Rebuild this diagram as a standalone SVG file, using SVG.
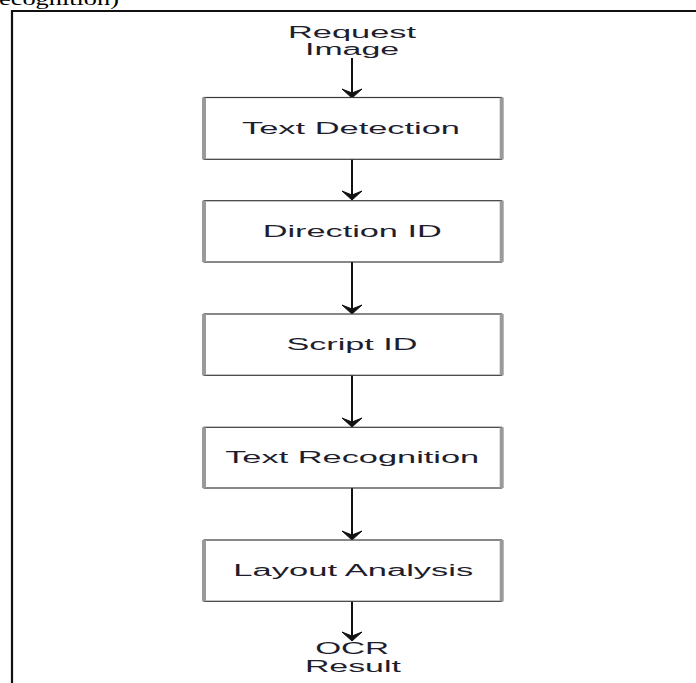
<svg xmlns="http://www.w3.org/2000/svg" width="696" height="683" viewBox="0 0 696 683">
<defs>
<style>
.frame{stroke:#111;stroke-width:2.2;fill:none}
.box{fill:#fff;stroke:#3a3a3a;stroke-width:1.2}
.side{stroke:#9a9a9a;stroke-width:4;fill:none}
.lbl{font-family:"Liberation Sans",Arial,sans-serif;font-size:16px;fill:#1e1e2e;text-anchor:middle}
.cap{font-family:"Liberation Serif","Times New Roman",serif;font-size:18px;fill:#000}
.conn line{stroke:#111;stroke-width:2}
</style>
<marker id="ah" markerUnits="userSpaceOnUse" markerWidth="24" markerHeight="24" refX="0" refY="0" orient="auto" viewBox="-12 -12 24 24" overflow="visible">
<path d="M0,0 L-9,-10 L-5,0 L-9,10 Z" fill="#111" stroke="#111" stroke-width="1" stroke-linejoin="miter"/>
</marker>
</defs>
<rect width="696" height="683" fill="#fff"/>
<text class="cap" x="-1" y="4.5" textLength="120" lengthAdjust="spacingAndGlyphs">ecognition)</text>
<path class="frame" d="M12,683 V11 H696"/>

<g id="conns" class="conn">
<line x1="352" y1="58" x2="352" y2="98" marker-end="url(#ah)"/>
<line x1="352" y1="159" x2="352" y2="200" marker-end="url(#ah)"/>
<line x1="352" y1="262" x2="352" y2="314" marker-end="url(#ah)"/>
<line x1="352" y1="375" x2="352" y2="427" marker-end="url(#ah)"/>
<line x1="352" y1="488" x2="352" y2="540" marker-end="url(#ah)"/>
<line x1="352" y1="601" x2="352" y2="641" marker-end="url(#ah)"/>
</g>

<g id="request">
<text class="lbl" x="352" y="38" textLength="128" lengthAdjust="spacingAndGlyphs">Request</text>
<text class="lbl" x="352" y="55" textLength="94" lengthAdjust="spacingAndGlyphs">Image</text>
</g>

<g id="textdetection">
<rect class="box" x="204" y="97.5" width="297.7" height="61.8"/>
<line class="side" x1="204" y1="97.5" x2="204" y2="159.3"/>
<line class="side" x1="501.7" y1="97.5" x2="501.7" y2="159.3"/>
<text class="lbl" x="351" y="133.5" textLength="218" lengthAdjust="spacingAndGlyphs">Text Detection</text>
</g>

<g id="directionid">
<rect class="box" x="204" y="200.7" width="297.7" height="61.3"/>
<line class="side" x1="204" y1="200.7" x2="204" y2="262"/>
<line class="side" x1="501.7" y1="200.7" x2="501.7" y2="262"/>
<text class="lbl" x="352.2" y="236.8" textLength="179" lengthAdjust="spacingAndGlyphs">Direction ID</text>
</g>

<g id="scriptid">
<rect class="box" x="204" y="314" width="297.7" height="61.3"/>
<line class="side" x1="204" y1="314" x2="204" y2="375.3"/>
<line class="side" x1="501.7" y1="314" x2="501.7" y2="375.3"/>
<text class="lbl" x="352" y="349.5" textLength="131" lengthAdjust="spacingAndGlyphs">Script ID</text>
</g>

<g id="textrecognition">
<rect class="box" x="204" y="427.3" width="297.7" height="60.7"/>
<line class="side" x1="204" y1="427.3" x2="204" y2="488"/>
<line class="side" x1="501.7" y1="427.3" x2="501.7" y2="488"/>
<text class="lbl" x="352.2" y="462.5" textLength="254" lengthAdjust="spacingAndGlyphs">Text Recognition</text>
</g>

<g id="layoutanalysis">
<rect class="box" x="204" y="540" width="297.7" height="61.3"/>
<line class="side" x1="204" y1="540" x2="204" y2="601.3"/>
<line class="side" x1="501.7" y1="540" x2="501.7" y2="601.3"/>
<text class="lbl" x="353.3" y="576" textLength="240" lengthAdjust="spacingAndGlyphs">Layout Analysis</text>
</g>

<g id="ocrresult">
<text class="lbl" x="352.2" y="654.3" textLength="74" lengthAdjust="spacingAndGlyphs">OCR</text>
<text class="lbl" x="352.9" y="671.7" textLength="96" lengthAdjust="spacingAndGlyphs">Result</text>
</g>
</svg>
